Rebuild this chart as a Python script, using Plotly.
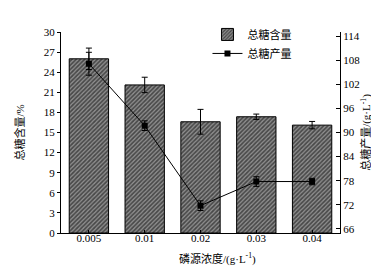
import plotly.graph_objects as go

categories = ["0.005", "0.01", "0.02", "0.03", "0.04"]
sugar_content = [26.0, 22.1, 16.6, 17.35, 16.1]
content_err = [1.6, 1.15, 1.85, 0.4, 0.55]
sugar_yield = [107.1, 91.7, 71.8, 77.8, 77.8]
yield_err = [2.85, 1.2, 1.2, 1.2, 0.8]
left_ticks = [0, 3, 6, 9, 12, 15, 18, 21, 24, 27, 30]
right_ticks = [66, 72, 78, 84, 90, 96, 102, 108, 114]

FONT = "Liberation Serif, Noto Sans CJK SC, serif"

fig = go.Figure()
fig.add_trace(go.Bar(
    x=categories, y=sugar_content, name="总糖含量",
    marker=dict(color="white", line=dict(color="black", width=1),
                pattern=dict(shape="/", fgcolor="black", bgcolor="#909090",
                             size=3, solidity=0.55)),
    error_y=dict(type="data", array=content_err, color="black", thickness=1, width=3),
    yaxis="y",
))
fig.add_trace(go.Scatter(
    x=categories, y=sugar_yield, name="总糖产量", mode="lines+markers",
    line=dict(color="black", width=1),
    marker=dict(symbol="square", size=6, color="black"),
    error_y=dict(type="data", array=yield_err, color="black", thickness=1, width=3),
    yaxis="y2",
))

fig.update_layout(
    width=379, height=266,
    margin=dict(l=43, r=47, t=12, b=41),
    paper_bgcolor="white", plot_bgcolor="white",
    font=dict(family=FONT, size=11, color="black"),
    bargap=0.295,
    showlegend=True,
    legend=dict(x=0.525, y=1.06, xanchor="left", yanchor="top",
                bgcolor="rgba(0,0,0,0)", font=dict(size=11),
                tracegroupgap=0, itemwidth=30),
    xaxis=dict(type="category", range=[-0.5, 4.5], showline=True, linecolor="black",
               linewidth=1, ticks="inside", ticklen=3, tickcolor="black",
               showgrid=False, tickfont=dict(size=11), ticklabelstandoff=-5),
    yaxis=dict(range=[0, 30], tickvals=left_ticks, showline=True, linecolor="black",
               linewidth=1, ticks="outside", ticklen=3, tickcolor="black",
               showgrid=False, zeroline=False,
               title=dict(text="总糖含量/%", font=dict(size=11), standoff=16)),
    yaxis2=dict(range=[65, 115], tickvals=right_ticks, overlaying="y", side="right",
                showline=True, linecolor="black", linewidth=1, ticks="inside",
                ticklen=4, tickcolor="black", showgrid=False, zeroline=False,
                title=dict(text="总糖产量/(g·L<sup>-1</sup>)", font=dict(size=11), standoff=3)),
    annotations=[dict(text="磷源浓度/(g·L<sup>-1</sup>)", xref="paper", yref="paper",
                      x=0.56, y=-0.125, xanchor="center", yanchor="middle",
                      showarrow=False, font=dict(size=11))],
)

fig.write_html("out.html")
